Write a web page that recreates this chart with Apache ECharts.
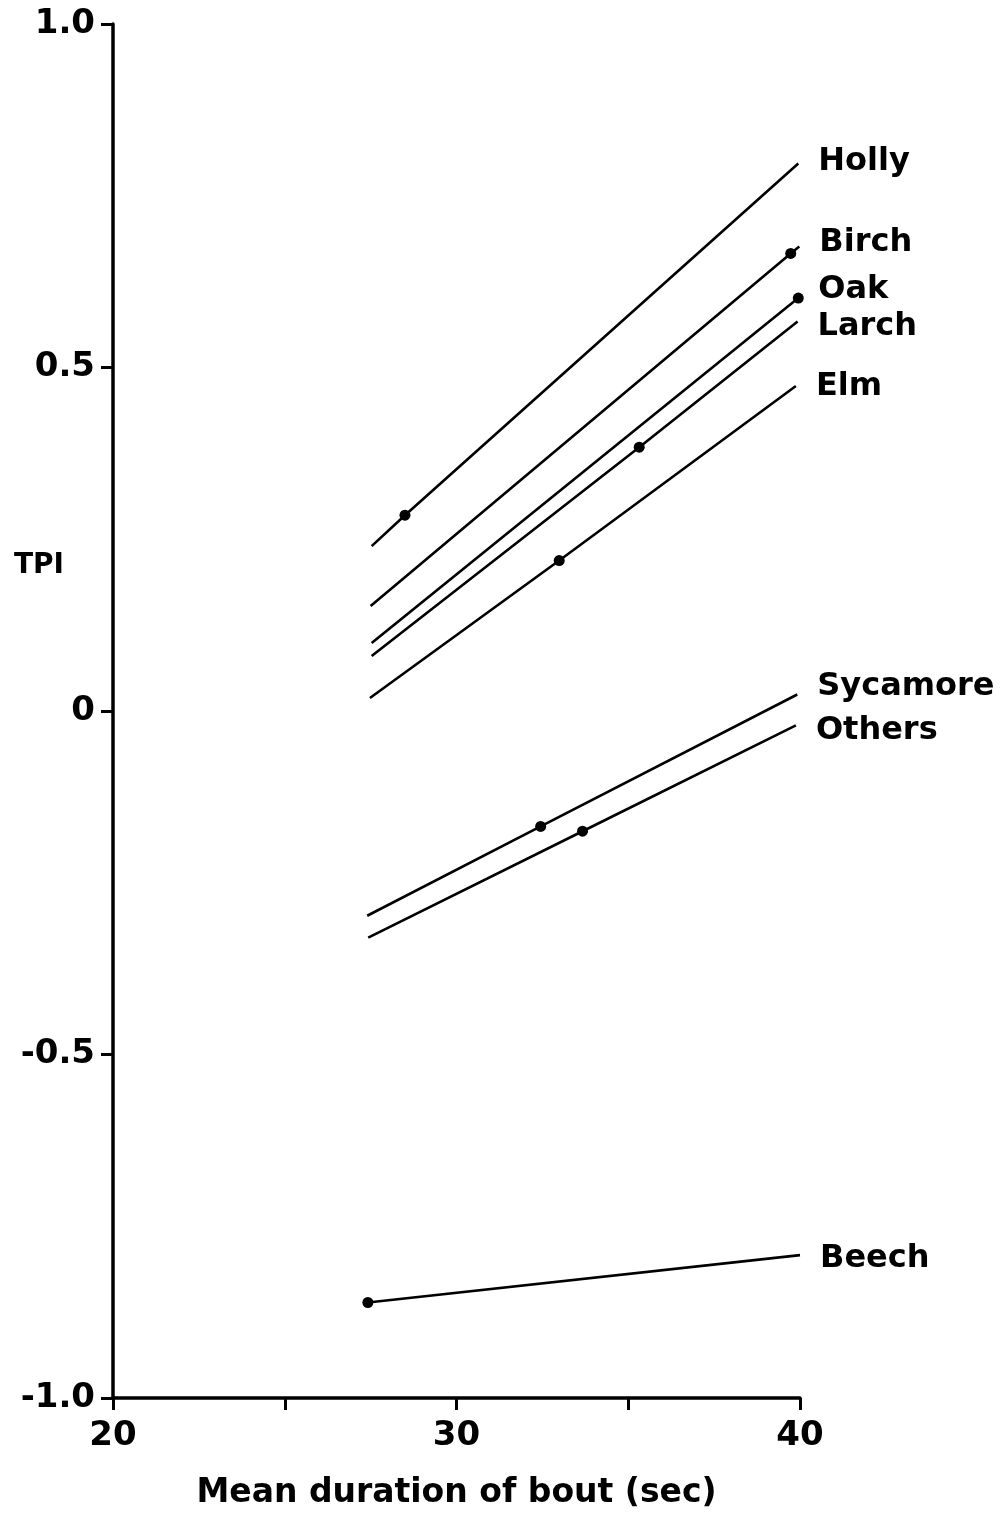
<!DOCTYPE html>
<html>
<head>
<meta charset="utf-8">
<script src="https://cdn.jsdelivr.net/npm/echarts@6/dist/echarts.min.js"></script>
<style>
  html, body { margin: 0; padding: 0; background: #fff; overflow: hidden; }
  #chart { width: 1001px; height: 1515px; }
</style>
</head>
<body>
<div id="chart"></div>
<script>
// values
const species = ['Holly', 'Birch', 'Oak', 'Larch', 'Elm', 'Sycamore', 'Others', 'Beech']
const startX = [27.53, 27.50, 27.53, 27.53, 27.48, 27.40, 27.43, 27.42]
const startY = [0.240, 0.153, 0.099, 0.080, 0.019, -0.298, -0.330, -0.861]
const endX = [39.95, 39.98, 39.95, 39.93, 39.88, 39.92, 39.88, 40.00]
const endY = [0.797, 0.676, 0.601, 0.567, 0.473, 0.024, -0.021, -0.792]
const dotX = [28.50, 39.73, 39.95, 35.32, 32.99, 32.45, 33.67, 27.42]
const dotY = [0.285, 0.666, 0.601, 0.384, 0.219, -0.168, -0.175, -0.861]
const xTicks = [20, 30, 40]

// small vertical nudge of each name vs its line end
const labelDy = [-2, -4, -8, 5, 1, -8, 5, 4]

const FONT = '"DejaVu Sans", "Liberation Sans", sans-serif'
const chart = echarts.init(document.getElementById('chart'), null, { renderer: 'canvas' })

const series = species.map((name, i) => {
  const pts = [
    { value: [startX[i], startY[i]], symbol: 'none' },
    { value: [dotX[i], dotY[i]], symbol: 'circle', symbolSize: 11 },
    { value: [endX[i], endY[i]], symbol: 'none' },
  ].sort((a, b) => a.value[0] - b.value[0])
  return {
    type: 'line',
    name,
    data: pts,
    showAllSymbol: true,
    lineStyle: { color: '#000', width: 2.6 },
    itemStyle: { color: '#000' },
    endLabel: {
      show: true,
      distance: 20,
      offset: [0, labelDy[i]],
      formatter: name,
      color: '#000',
      fontFamily: FONT,
      fontWeight: 'bold',
      fontSize: 32,
    },
    emphasis: { disabled: true },
    z: 3,
  }
})

chart.setOption({
  animation: false,
  backgroundColor: '#fff',
  grid: { left: 113, top: 24, width: 687, height: 1382, containLabel: false },
  graphic: [{
    type: 'text', left: 14, top: 552,
    style: { text: 'TPI', fill: '#000', font: 'bold 28px ' + FONT },
  }],
  xAxis: {
    type: 'value', min: 20, max: 40, interval: 5,
    name: 'Mean duration of bout (sec)',
    nameLocation: 'middle', nameGap: 79,
    nameTextStyle: { color: '#000', fontFamily: FONT, fontWeight: 'bold', fontSize: 33 },
    axisLine: { onZero: false, lineStyle: { color: '#000', width: 3.5 } },
    axisTick: { show: true, length: 12, inside: false, lineStyle: { color: '#000', width: 3 } },
    axisLabel: {
      margin: 21, color: '#000', fontFamily: FONT, fontWeight: 'bold', fontSize: 34,
      formatter: v => xTicks.includes(v) ? String(v) : '',
    },
    splitLine: { show: false },
  },
  yAxis: {
    type: 'value', min: -1, max: 1, interval: 0.5,
    axisLine: { show: true, onZero: false, lineStyle: { color: '#000', width: 3.5 } },
    axisTick: { show: true, length: 12, inside: false, lineStyle: { color: '#000', width: 3 } },
    axisLabel: {
      margin: 18, color: '#000', fontFamily: FONT, fontWeight: 'bold', fontSize: 34,
      formatter: v => v === 0 ? '0' : v.toFixed(1),
    },
    splitLine: { show: false },
  },
  series,
})
</script>
</body>
</html>
